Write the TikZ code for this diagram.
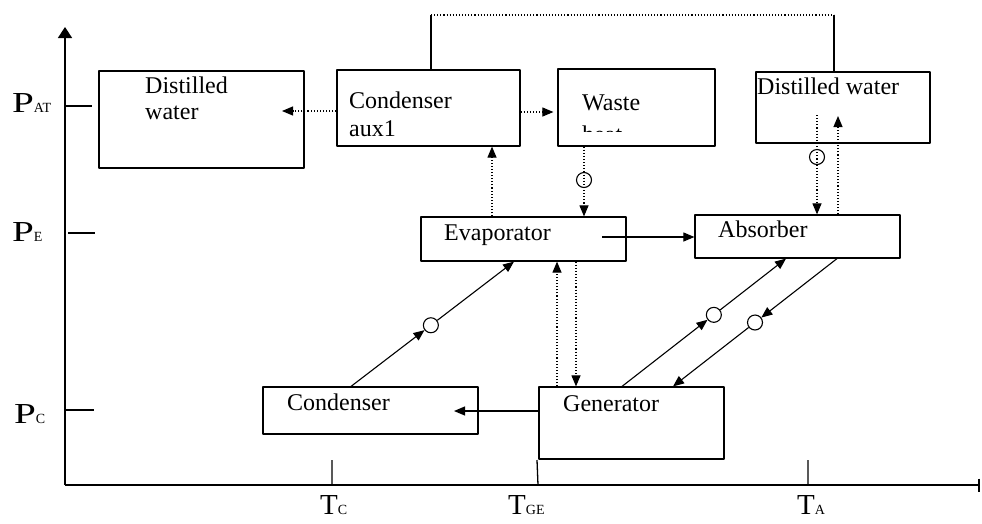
\documentclass[tikz,border=0pt]{standalone}
\usepackage{graphicx}
\usepackage{fontspec}
\setmainfont{Liberation Serif}
\usetikzlibrary{arrows.meta,calc}
\tikzset{
  box/.style={draw, line width=1.2pt, rectangle, inner sep=0pt},
  txt/.style={anchor=base west, inner sep=0pt, font=\fontsize{24}{28}\selectfont},
  axlab/.style={anchor=base west, inner sep=0pt, font=\fontsize{29}{30}\selectfont},
  flow/.style={line width=1.1pt, -{Triangle[length=11pt,width=9pt]}},
  flowdot/.style={flow, dash pattern=on 1.1pt off 2pt},
  valve/.style={draw, circle, line width=1.1pt, minimum size=15pt, inner sep=0pt},
  tick/.style={line width=1.3pt}
}
\newcommand{\Plab}[1]{\scalebox{1.35}[1]{P}{\fontsize{14}{14}\selectfont #1}}
\newcommand{\Tlab}[1]{T{\fontsize{14}{14}\selectfont #1}}
\begin{document}
\begin{tikzpicture}[x=1pt, y=-1pt, line join=round]
\useasboundingbox (0,0) rectangle (982,523);
% axes
\coordinate (O) at (65,485);
\coordinate (ytop) at (65,27);
\coordinate (xend) at (980,485);
\draw[line width=1.6pt, -{Triangle[length=11pt,width=14pt]}] (O) -- (ytop);
\draw[line width=1.6pt, -{Bar[width=13pt]}] (O) -- (xend);
\draw[tick] (65,106) -- (92,106) (68,233) -- (95,233) (65,410) -- (94,410);
\draw[tick] (332,460) -- (332,485) (537,460) -- (538,485) (808,460) -- (808,485);
\node[axlab] (PAT) at (12,112) {\Plab{AT}};
\node[axlab] (PE)  at (12,241) {\Plab{E}};
\node[axlab] (PC)  at (14,423) {\Plab{C}};
\node[axlab] (TC)  at (320,514) {\Tlab{C}};
\node[axlab] (TGE) at (508,514) {\Tlab{GE}};
\node[axlab] (TA)  at (797,514) {\Tlab{A}};
% boxes
\node[box, minimum width=205pt, minimum height=97pt] (dwL)   at (201.5,119.5) {};
\node[box, minimum width=183pt, minimum height=76pt] (aux)   at (428.5,108) {};
\node[box, minimum width=157pt, minimum height=77pt] (waste) at (636.5,107.5) {};
\node[box, minimum width=174pt, minimum height=71pt] (dwR)   at (843,107.5) {};
\node[box, minimum width=205pt, minimum height=44pt] (evap)  at (523.5,239) {};
\node[box, minimum width=205pt, minimum height=43pt] (absb)  at (797.5,236.5) {};
\node[box, minimum width=215pt, minimum height=47pt] (cond)  at (370.5,410.5) {};
\node[box, minimum width=185pt, minimum height=72pt] (gen)   at (631.5,423) {};
% box texts
\node[txt] (dwLa)  at (145,93)  {Distilled};
\node[txt] (dwLb)  at (145,119) {water};
\node[txt] (auxa)  at (349,108) {Condenser};
\node[txt] (auxb)  at (349,136) {aux1};
\node[txt] (wastea) at (582,110) {Waste};
\begin{scope}
\clip (570,115) rectangle (650,131);
\node[txt] (wasteb) at (582,142) {heat};
\end{scope}
\node[txt] (dwRa)  at (757,94)  {Distilled water};
\node[txt] (evapa) at (444,240) {Evaporator};
\node[txt] (absba) at (718,237) {Absorber};
\node[txt] (conda) at (287,410) {Condenser};
\node[txt] (gena)  at (563,411) {Generator};
% top link
\coordinate (tl) at (431,15);
\coordinate (tr) at (834,15);
\draw[line width=1.2pt] (aux.north -| tl) -- (tl);
\draw[line width=1.1pt, dash pattern=on 1.1pt off 2pt] (tl) -- (tr);
\draw[line width=1.2pt] (tr) -- (dwR.north -| tr);
% dotted flows
\coordinate (dwLin) at (282,111);
\draw[flowdot] (aux.west |- dwLin) -- (dwLin);
\draw[flowdot, shorten >=4pt] (aux.east |- 0,112) -- (waste.west |- 0,112);
\draw[flowdot] (evap.north -| 492,0) -- (aux.south -| 492,0);
\draw[flowdot] (waste.south -| 584,0) -- (evap.north -| 584,0);
\node[valve] (vw) at (584,180) {};
\coordinate (dwRout) at (817,115);
\coordinate (dwRin) at (838,116);
\draw[flowdot] (dwRout) -- (absb.north -| dwRout);
\node[valve] (vd) at (817,157) {};
\draw[flowdot] (absb.north -| dwRin) -- (dwRin);
\draw[flowdot] (gen.north -| 557,0) -- (evap.south -| 557,0);
\draw[flowdot] (evap.south -| 576,0) -- (gen.north -| 576,0);
% solid flows
\coordinate (evapout) at (602,237);
\draw[flow] (evapout) -- (absb.west |- evapout);
\coordinate (condin) at (454,411);
\draw[flow] (gen.west |- condin) -- (condin);
\coordinate (c1) at (cond.north -| 351,0);
\coordinate (e1) at (evap.south -| 514,0);
\node[valve] (v1) at ($(c1)!0.49!(e1)$) {};
\draw[flow] (c1) -- (v1);
\draw[flow] (v1) -- (e1);
\coordinate (g1) at (gen.north -| 622,0);
\coordinate (a1) at (absb.south -| 786,0);
\node[valve] (v2) at ($(g1)!0.56!(a1)$) {};
\draw[flow] (g1) -- (v2);
\draw[flow] (v2) -- (a1);
\coordinate (a2) at (absb.south -| 837,0);
\coordinate (g2) at (gen.north -| 673,0);
\node[valve] (v3) at ($(a2)!0.5!(g2)$) {};
\draw[flow] (a2) -- (v3);
\draw[flow] (v3) -- (g2);
\end{tikzpicture}
\end{document}
